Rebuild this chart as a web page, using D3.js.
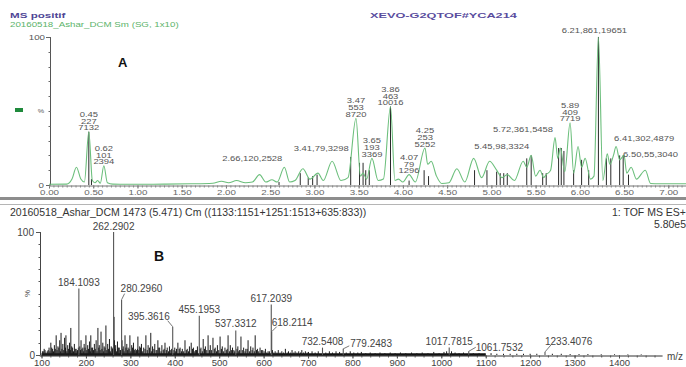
<!DOCTYPE html>
<html><head><meta charset="utf-8">
<script src="https://cdn.jsdelivr.net/npm/d3@7"></script>
<style>
html,body{margin:0;padding:0;background:#fff;}
svg{display:block;font-family:Arial,"Liberation Sans",sans-serif;}
</style></head><body>
<svg id="chart" width="686" height="367"></svg>
<script>
// ---------- Panel A: total ion chromatogram (retention time in min, % of base) ----------
const ticPoints = [
  [0.00,0.5],[0.20,0.6],[0.26,4],[0.31,12],[0.36,4],[0.40,2],[0.45,36],[0.49,3],[0.52,1.5],
  [0.55,3],[0.58,1.2],[0.62,13],[0.66,1.5],[0.72,0.6],[1.00,0.5],[1.30,0.6],[1.60,0.8],
  [1.85,1.2],[1.95,2.5],[2.03,1.5],[2.12,3],[2.22,1.5],[2.30,2],[2.38,7],[2.45,2],[2.52,3.5],
  [2.58,2],[2.66,12],[2.72,2],[2.78,3],[2.87,11],[2.95,4],[3.04,8],[3.10,3],[3.20,16],[3.30,3],
  [3.38,5],[3.47,45],[3.52,6],[3.55,8],[3.59,4],[3.65,18],[3.72,3],[3.78,4],[3.86,53],[3.91,3],
  [3.95,4],[4.00,2],[4.07,7],[4.14,2],[4.25,25],[4.28,14],[4.32,16],[4.38,6],[4.44,1],[4.52,1.5],
  [4.61,11],[4.70,2],[4.80,18],[4.89,5],[4.98,16],[5.06,10],[5.12,5],[5.18,7],[5.26,3],[5.36,16],
  [5.40,12],[5.45,20],[5.50,6],[5.55,10],[5.59,5],[5.62,7],[5.67,10],[5.72,32],[5.75,18],[5.78,25],
  [5.83,9],[5.89,42],[5.93,8],[5.98,26],[6.02,12],[6.06,18],[6.12,4],[6.16,6],[6.21,100],[6.26,3],
  [6.31,21],[6.34,14],[6.38,20],[6.41,26],[6.45,17],[6.50,20],[6.53,8],[6.58,12],[6.64,4],
  [6.74,10],[6.80,1],[6.90,0.8],[7.20,0.8]
];
// integrated peak drop lines
const ticSticks = [
  [0.45,36],[0.48,4],[2.60,2],[2.84,8],[2.93,5],[2.98,6],[3.03,7],[3.41,19],[3.51,15],[3.55,15],
  [3.58,10],[3.62,10],[3.86,53],[4.07,3],[4.24,10],[4.29,6],[4.81,10],[4.95,10],[5.06,9],[5.10,8],
  [5.14,8],[5.18,8],[5.40,18],[5.45,20],[5.58,8],[5.62,8],[5.76,25],[5.79,25],[5.82,23],[5.93,10],
  [6.02,17],[6.10,10],[6.21,100],[6.30,18],[6.35,18],[6.45,20],[6.49,20],[6.55,7]
];
const peakRt   = [0.45, 0.62, 2.66, 3.41, 3.47, 3.65, 3.86, 4.07, 4.25, 5.45, 5.72, 5.89, 6.21, 6.41, 6.50];
const peakScan = [227, 101, 120, 79, 553, 193, 463, 79, 253, 98, 361, 409, 861, 302, 55];
const peakArea = [7132, 2394, 2528, 3298, 8720, 3369, 10016, 1296, 5252, 3324, 5458, 7719, 19651, 4879, 3040];
const rtTicks  = [0, 0.5, 1, 1.5, 2, 2.5, 3, 3.5, 4, 4.5, 5, 5.5, 6, 6.5, 7];

// ---------- Panel B: mass spectrum at 5.471 min (m/z, % of base peak) ----------
const spectrum = [
  [104,3],[108,4],[113,3],[117,6],[121,10],[125,5],[129,8],[133,16],[137,7],[141,12],[144,18],
  [148,9],[152,14],[155,16],[159,8],[163,10],[166,22],[170,6],[174,9],[178,5],[181,4],[186,7],
  [189,12],[193,6],[196,9],[200,16],[204,8],[208,11],[211,16],[215,6],[219,9],[223,12],[227,22],
  [230,8],[234,19],[238,10],[241,7],[245,24],[249,9],[253,13],[257,7],[260,5],[263.29,31],[264.3,12],
  [267,8],[271,11],[275,6],[278,4],[281.3,12],[284,7],[288,16],[292,9],[295,6],[299,16],[303,8],
  [307,10],[311,5],[314,4],[317,15],[321,7],[325,9],[330,6],[335,16],[340,8],[346,18],[350,7],
  [355,9],[358,4],[362,12],[366,6],[371,8],[374,4],[378,10],[383,6],[388,7],[391,4],[400,6],
  [404,5],[407,10],[412,6],[417,5],[420,3],[423,12],[428,5],[433,7],[437,10],[442,6],[447,4],
  [451,7],[459,6],[464,13],[469,7],[472,4],[475,16],[480,8],[483,4],[486,14],[491,6],[496,8],
  [499,4],[502,15],[507,7],[513,6],[516,4],[520,16],[525,8],[530,6],[533,4],[542,7],[546,4],
  [549,15],[555,6],[560,5],[565,12],[571,7],[576,6],[581,16],[586,5],[592,6],[598,4],[604,5],
  [610,3],[613,3],[620,4],[626,3],[633,4],[641,3],[649,5],[656,3],[664,4],[671,3],[679,3],
  [686,4],[694,3],[701,2.5],[709,3],[716,2],[723,3],[740,2],[748,3],[755,2],[763,3],[771,2.5],
  [786,2],[795,3],[803,2],[812,2],[820,2.5],[830,1.5],[840,2],[851,1.5],[862,2],[873,1.5],
  [885,2],[896,1.5],[908,2],[920,1.5],[933,2],[945,1.5],[957,2],[970,1.5],[983,2.5],[995,1.5],
  [1006,2.5],[1012,3],[1023,3],[1031,2],[1040,1.5],[1050,2],[1072,1.5],[1085,1.5],[1098,1],
  [1112,1.5],[1125,1],[1140,1],[1155,1],[1170,1],[1185,1],[1200,1],[1215,1],[1250,1],[1270,1],
  [1290,0.8],[1310,0.8],[1330,0.8],[1360,0.6],[1390,0.6],[1420,0.5],[1450,0.5]
];
// low-level ions filling the chemical noise floor
const spectrumNoise = [
  [102,3],[106,5],[110,2],[115,4],[119,3],[123,6],[127,3],[131,5],[135,4],[139,6],[143,3],[146,5],
  [150,4],[154,6],[157,3],[161,5],[165,4],[168,7],[172,3],[176,5],[180,3],[183,6],[188,4],[191,5],
  [195,3],[198,6],[202,4],[206,5],[210,3],[213,6],[217,4],[221,5],[225,3],[229,6],[232,4],[236,5],
  [240,3],[243,6],[247,4],[251,5],[255,3],[259,6],[266,5],[269,3],[273,6],[277,4],[283,5],[286,3],
  [290,6],[294,4],[297,5],[301,3],[305,6],[309,4],[313,3],[316,5],[319,4],[323,6],[327,3],[333,5],
  [338,4],[343,6],[348,3],[353,5],[360,4],[364,6],[369,3],[376,5],[381,4],[386,3],[393,5],[398,4],
  [402,3],[410,5],[415,3],[426,4],[431,3],[440,5],[445,3],[449,4],[457,5],[462,3],[467,5],[478,4],
  [489,5],[494,3],[505,5],[510,3],[518,5],[523,3],[528,4],[535,3],[540,5],[544,3],[552,4],[558,3],
  [563,5],[568,3],[574,4],[579,3],[584,4],[589,3],[595,4],[601,3],[607,2],[623,2],[630,2],[637,2],
  [645,2],[653,2],[660,2],[668,2],[675,2],[683,2],[690,2],[698,2]
];
const labelMz  = [184.1093, 262.2902, 280.2960, 395.3616, 455.1953, 537.3312, 617.2039, 618.2114,
                  732.5408, 779.2483, 1017.7815, 1061.7532, 1233.4076];
const labelPct = [54, 100, 45, 23, 32, 20, 41, 19, 6, 5, 6, 3, 2.5];
const mzTicks  = [100, 200, 300, 400, 500, 600, 700, 800, 900, 1000, 1100, 1200, 1300, 1400];

// ---------- layout ----------
const svg = d3.select("#chart");
const FONT = "Arial, 'Liberation Sans', sans-serif";

// stretched text helper (the printout's small type is wide and short)
function txt(g, x, y, str, o) {
  o = o || {};
  return g.append("text")
    .attr("transform", `translate(${x},${y}) scale(${o.sx || 1},1)`)
    .attr("text-anchor", o.anchor || "start")
    .attr("font-size", (o.size || 10) + "px")
    .attr("font-weight", o.bold ? "bold" : "normal")
    .attr("fill", o.color || "#333")
    .text(str);
}

// ===== Panel A =====
const xA = d3.scaleLinear().domain([0, 7.2]).range([49, 686]);
const yA = d3.scaleLinear().domain([0, 100]).range([185, 37]);
const gA = svg.append("g");

txt(gA, 10, 18, "MS positif", {size: 7.5, sx: 1.55, bold: true, color: "#4e4596"});
txt(gA, 10, 27, "20160518_Ashar_DCM Sm (SG, 1x10)", {size: 6.5, sx: 1.5, color: "#5bb36a"});
txt(gA, 370, 18, "XEVO-G2QTOF#YCA214", {size: 7.5, sx: 1.7, bold: true, color: "#5a4d9e"});
txt(gA, 118, 67, "A", {size: 13, bold: true, color: "#111"});
gA.append("rect").attr("x", 15).attr("y", 108).attr("width", 8).attr("height", 4).attr("fill", "#1f8a3c");

// y axis
gA.append("line").attr("x1", 50.5).attr("x2", 50.5).attr("y1", yA(100)).attr("y2", yA(0))
  .attr("stroke", "#555").attr("stroke-width", 1);
d3.range(0, 101, 10).forEach(v => {
  gA.append("line").attr("x1", 50.5).attr("x2", v % 100 === 0 ? 46 : 48.5)
    .attr("y1", Math.round(yA(v)) + 0.5).attr("y2", Math.round(yA(v)) + 0.5)
    .attr("stroke", "#666");
});
txt(gA, 45, yA(100) + 2.5, "100", {size: 6.5, sx: 1.5, anchor: "end", color: "#555"});
txt(gA, 44, yA(0) + 2.5, "0", {size: 6.5, sx: 1.5, anchor: "end", color: "#555"});
txt(gA, 41, yA(50) + 2, "%", {size: 6, sx: 1.2, anchor: "middle", color: "#555"});

// x axis with minor ticks
const axA = d3.axisBottom(xA).tickValues(rtTicks).tickFormat(d3.format(".2f")).tickSize(3).tickSizeOuter(0);
const axGA = gA.append("g").attr("transform", `translate(0,${yA(0) + 0.5})`).call(axA);
axGA.select(".domain").attr("stroke", "#777");
axGA.selectAll(".tick line").attr("stroke", "#666");
axGA.selectAll(".tick text").attr("font-size", "6.5px").attr("fill", "#666").attr("font-family", FONT)
  .attr("y", 5).attr("transform", "scale(1.5,1)");
const minorA = d3.axisBottom(xA).ticks(144).tickSize(2).tickFormat("");
const mA = gA.append("g").attr("transform", `translate(0,${yA(0) + 0.5})`).call(minorA);
mA.select(".domain").remove();
mA.selectAll(".tick line").attr("stroke", "#888");

// drop lines
gA.append("g").selectAll("line").data(ticSticks).join("line")
  .attr("x1", d => xA(d[0])).attr("x2", d => xA(d[0]))
  .attr("y1", yA(0)).attr("y2", d => yA(d[1]))
  .attr("stroke", "#2a2a2a").attr("stroke-width", 1);

// chromatogram trace
const lineA = d3.line().x(d => xA(d[0])).y(d => yA(d[1])).curve(d3.curveMonotoneX);
gA.append("path").datum(ticPoints).attr("d", lineA)
  .attr("fill", "none").attr("stroke", "#6cbf7c").attr("stroke-width", 1.1);

// peak annotations
const labelLayout = ["stack","stack","left","left","stack","stack","stack","stack","stack",
                     "left","left","stack","center","right","rightLow"];
function peakHeight(rt) {
  const a = ticPoints.find(p => p[0] === rt), b = ticSticks.find(p => p[0] === rt);
  return Math.max(a ? a[1] : 0, b ? b[1] : 0);
}
const annA = gA.append("g");
peakRt.forEach((rt, i) => {
  const x = xA(rt), y = yA(peakHeight(rt));
  const rtS = rt.toFixed(2), mode = labelLayout[i];
  const o = {size: 6.5, sx: 1.45, color: "#555"};
  if (mode === "stack") {
    txt(annA, x, y - 15, rtS, {...o, anchor: "middle"});
    txt(annA, x, y - 8, String(peakScan[i]), {...o, anchor: "middle"});
    txt(annA, x, y - 1.5, String(peakArea[i]), {...o, anchor: "middle"});
  } else {
    const s = `${rtS},${peakScan[i]},${peakArea[i]}`;
    if (mode === "left") txt(annA, x - 2, y - 6, s, {...o, anchor: "end"});
    else if (mode === "center") txt(annA, x - 4, y - 4, s, {...o, anchor: "middle"});
    else if (mode === "right") txt(annA, x - 2, y - 6, s, o);
    else txt(annA, x - 1, y + 1.5, s, o);
  }
});

// panel separator
svg.append("rect").attr("x", 0).attr("y", 197).attr("width", 686).attr("height", 3).attr("fill", "#8d8d8d");
svg.append("line").attr("x1", 0).attr("x2", 686).attr("y1", 204.5).attr("y2", 204.5)
  .attr("stroke", "#b5b5b5").attr("stroke-width", 1);

// ===== Panel B =====
const xB = d3.scaleLinear().domain([100, 1400]).range([41.5, 619]);
const yB = d3.scaleLinear().domain([0, 100]).range([355, 232]);
const gB = svg.append("g");

txt(gB, 10, 216, "20160518_Ashar_DCM 1473 (5.471) Cm ((1133:1151+1251:1513+635:833))", {size: 10.5, color: "#333"});
txt(gB, 686, 216, "1: TOF MS ES+", {size: 10.5, anchor: "end", color: "#333"});
txt(gB, 686, 228, "5.80e5", {size: 10.5, anchor: "end", color: "#333"});
txt(gB, 154, 261, "B", {size: 14, bold: true, color: "#111"});

// y axis
gB.append("line").attr("x1", 40.5).attr("x2", 40.5).attr("y1", yB(100)).attr("y2", yB(0))
  .attr("stroke", "#444");
d3.range(0, 101, 10).forEach(v => {
  gB.append("line").attr("x1", 40.5).attr("x2", v % 100 === 0 ? 36 : 38.5)
    .attr("y1", Math.round(yB(v)) + 0.5).attr("y2", Math.round(yB(v)) + 0.5).attr("stroke", "#555");
});
txt(gB, 34, yB(100) + 3.5, "100", {size: 10, anchor: "end", color: "#444"});
txt(gB, 35, yB(0) + 3.5, "0", {size: 10, anchor: "end", color: "#444"});
gB.append("text").attr("transform", `translate(30,${yB(50)}) rotate(-90)`)
  .attr("text-anchor", "middle").attr("font-size", "8px").attr("fill", "#444").text("%");

// x axis
const xBaxis = xB.copy().domain([95, 1497]).range([xB(95), xB(1497)]);
const axB = d3.axisBottom(xBaxis).tickValues(mzTicks).tickFormat(d3.format("d")).tickSize(3).tickSizeOuter(0);
const axGB = gB.append("g").attr("transform", `translate(0,${yB(0) + 0.5})`).call(axB);
axGB.select(".domain").attr("stroke", "#333").attr("stroke-width", 1);
axGB.selectAll(".tick line").attr("stroke", "#444");
axGB.selectAll(".tick text").attr("font-size", "9.5px").attr("fill", "#444").attr("font-family", FONT)
  .attr("y", 4);
const minorB = d3.axisBottom(xBaxis).tickValues(d3.range(100, 1500, 20)).tickSize(2).tickFormat("");
const mB = gB.append("g").attr("transform", `translate(0,${yB(0) + 0.5})`).call(minorB);
mB.select(".domain").remove();
mB.selectAll(".tick line").attr("stroke", "#555");
txt(gB, 667, 360, "m/z", {size: 10, color: "#444"});

// thick noise floor along the baseline
gB.append("line").attr("x1", xB(100)).attr("x2", xB(1100)).attr("y1", yB(0) - 0.5).attr("y2", yB(0) - 0.5)
  .attr("stroke", "#111").attr("stroke-width", 2.5);

// spectrum sticks
gB.append("g").selectAll("line").data(spectrumNoise.concat(spectrum)).join("line")
  .attr("x1", d => xB(d[0])).attr("x2", d => xB(d[0]))
  .attr("y1", yB(0)).attr("y2", d => yB(d[1]))
  .attr("stroke", "#1c1c1c").attr("stroke-width", 1);
gB.append("g").selectAll("line").data(labelMz).join("line")
  .attr("x1", d => xB(d)).attr("x2", d => xB(d))
  .attr("y1", yB(0)).attr("y2", (d, i) => yB(labelPct[i]))
  .attr("stroke", "#555").attr("stroke-width", 1.1);

// annotation placement: [dx, dy, anchor, leader dx, leader dy]
const mzLabelPlace = [
  [0,-3,"middle"], [0,-2,"middle"], [-1,-8,"start",3,-6], [-3,-7,"end",-5,-6], [0,-3,"middle"],
  [0,-3,"middle"], [0,-3,"middle"], [0,-6,"start",5,-5], [0,-3,"middle"], [7,-2,"start",6,-3],
  [0,-3,"middle"], [7,0,"start",7,-4], [0,-7,"start",6,-7]
];
labelMz.forEach((mz, i) => {
  const x = xB(mz), y = yB(labelPct[i]), p = mzLabelPlace[i];
  if (p.length > 3) {
    gB.append("line").attr("x1", x).attr("y1", y).attr("x2", x + p[3]).attr("y2", y + p[4])
      .attr("stroke", "#555").attr("stroke-width", 0.8);
  }
  txt(gB, x + p[0], y + p[1], mz.toFixed(4), {size: 10, anchor: p[2], color: "#444"});
});
</script>
</body></html>
